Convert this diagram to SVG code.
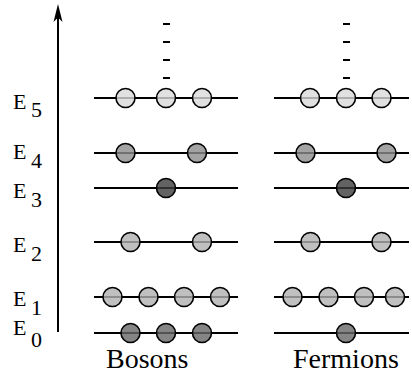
<svg xmlns="http://www.w3.org/2000/svg" width="412" height="375" viewBox="0 0 412 375">
<style>
.lvl{stroke:#000;stroke-width:2}
.p{stroke:#000;stroke-width:1.6;fill-opacity:0.8}
.c5{fill:#d9d9d9}.c4{fill:#8c8c8c}.c3{fill:#3c3c3c}.c2{fill:#b0b0b0}.c0{fill:#666}
.dash{stroke:#000;stroke-width:2}
</style>
<g id="axis">
<line x1="58" y1="332" x2="58" y2="8" stroke="#000" stroke-width="2"/>
<path d="M58,4 L62.5,22 L58,17.5 L53.5,22 Z" fill="#000"/>
</g>
<g id="labels" font-family="Liberation Serif, serif" font-size="22">
<text x="13" y="109">E<tspan x="31" y="117">5</tspan></text>
<text x="13" y="159">E<tspan x="31" y="168">4</tspan></text>
<text x="13" y="198">E<tspan x="31" y="207">3</tspan></text>
<text x="13" y="252">E<tspan x="31" y="261">2</tspan></text>
<text x="13" y="306">E<tspan x="31" y="315">1</tspan></text>
<text x="13" y="335">E<tspan x="31" y="347">0</tspan></text>
</g>
<g id="bosons">
<g class="dash"><line x1="163" y1="24" x2="170" y2="24"/><line x1="163" y1="42" x2="170" y2="42"/><line x1="163" y1="60" x2="170" y2="60"/><line x1="163" y1="78" x2="170" y2="78"/></g>
<line class="lvl" x1="94" y1="98" x2="238" y2="98"/>
<line class="lvl" x1="94" y1="153" x2="238" y2="153"/>
<line class="lvl" x1="94" y1="188" x2="238" y2="188"/>
<line class="lvl" x1="94" y1="242" x2="238" y2="242"/>
<line class="lvl" x1="94" y1="297" x2="238" y2="297"/>
<line class="lvl" x1="94" y1="333" x2="238" y2="333"/>
<circle class="p c5" cx="125.5" cy="98" r="9.5"/><circle class="p c5" cx="166" cy="98" r="9.5"/><circle class="p c5" cx="202" cy="98" r="9.5"/>
<circle class="p c4" cx="125.5" cy="153" r="9.5"/><circle class="p c4" cx="197" cy="153" r="9.5"/>
<circle class="p c3" cx="166" cy="188" r="9.5"/>
<circle class="p c2" cx="130.5" cy="242" r="9.5"/><circle class="p c2" cx="202" cy="242" r="9.5"/>
<circle class="p c2" cx="112.5" cy="297" r="9.5"/><circle class="p c2" cx="148.5" cy="297" r="9.5"/><circle class="p c2" cx="184" cy="297" r="9.5"/><circle class="p c2" cx="220" cy="297" r="9.5"/>
<circle class="p c0" cx="130.5" cy="333" r="9.5"/><circle class="p c0" cx="166" cy="333" r="9.5"/><circle class="p c0" cx="202" cy="333" r="9.5"/>
<text x="106" y="368" font-family="Liberation Serif, serif" font-size="28">Bosons</text>
</g>
<g id="fermions">
<g class="dash"><line x1="343" y1="24" x2="350" y2="24"/><line x1="343" y1="42" x2="350" y2="42"/><line x1="343" y1="60" x2="350" y2="60"/><line x1="343" y1="78" x2="350" y2="78"/></g>
<line class="lvl" x1="274" y1="98" x2="409" y2="98"/>
<line class="lvl" x1="274" y1="153" x2="409" y2="153"/>
<line class="lvl" x1="274" y1="188" x2="409" y2="188"/>
<line class="lvl" x1="274" y1="242" x2="409" y2="242"/>
<line class="lvl" x1="274" y1="297" x2="409" y2="297"/>
<line class="lvl" x1="274" y1="333" x2="409" y2="333"/>
<circle class="p c5" cx="310" cy="98" r="9.5"/><circle class="p c5" cx="346" cy="98" r="9.5"/><circle class="p c5" cx="381.5" cy="98" r="9.5"/>
<circle class="p c4" cx="305.5" cy="153" r="9.5"/><circle class="p c4" cx="386.5" cy="153" r="9.5"/>
<circle class="p c3" cx="346" cy="188" r="9.5"/>
<circle class="p c2" cx="310.5" cy="242" r="9.5"/><circle class="p c2" cx="381.5" cy="242" r="9.5"/>
<circle class="p c2" cx="292.5" cy="297" r="9.5"/><circle class="p c2" cx="328.5" cy="297" r="9.5"/><circle class="p c2" cx="364" cy="297" r="9.5"/><circle class="p c2" cx="395" cy="297" r="9.5"/>
<circle class="p c0" cx="346" cy="333" r="9.5"/>
<text x="293" y="368" font-family="Liberation Serif, serif" font-size="28">Fermions</text>
</g>
</svg>
